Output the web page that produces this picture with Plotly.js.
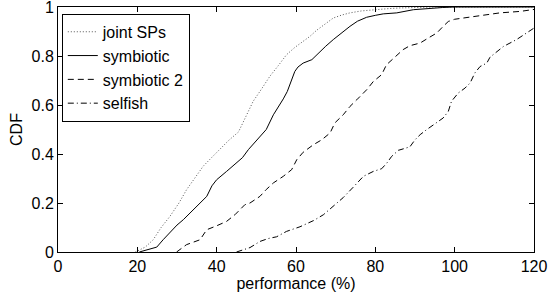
<!DOCTYPE html>
<html>
<head>
<meta charset="utf-8">
<script src="https://cdn.plot.ly/plotly-3.0.1.min.js"></script>
<style>html,body{margin:0;padding:0;background:#fff;}#chart{width:548px;height:293px;}</style>
</head>
<body>
<div id="chart"></div>
<script>
const seriesNames = ['joint SPs', 'symbiotic', 'symbiotic 2', 'selfish'];
const xTicks = [0, 20, 40, 60, 80, 100, 120];
const yTicks = [0, 0.2, 0.4, 0.6, 0.8, 1];
const yTickText = ['0', '0.2', '0.4', '0.6', '0.8', '1'];

const jointX = [19.5, 22, 24, 26, 28.2, 30.5, 32.4, 34.5, 36.6, 38.7, 40.8, 43, 45.5, 47.5, 49.2, 51.3, 53.4, 55.5, 57.6, 59.7, 61.8, 63.5, 65.2, 67.3, 69.4, 71.5, 73.6, 76.5, 79.5, 83, 86, 90, 95, 120];
const jointY = [0, 0.02, 0.05, 0.1, 0.145, 0.2, 0.254, 0.3, 0.35, 0.385, 0.418, 0.455, 0.49, 0.56, 0.615, 0.665, 0.717, 0.76, 0.805, 0.835, 0.86, 0.88, 0.905, 0.93, 0.955, 0.967, 0.976, 0.984, 0.989, 0.993, 0.996, 0.998, 1, 1];

const symX = [20.5, 23, 24.9, 26.5, 28.2, 30, 31.6, 33.3, 35.8, 37.5, 38.8, 40, 42.5, 45, 46.5, 48, 49.5, 51, 52.5, 54.3, 55.5, 56.8, 57.8, 58.5, 59.7, 60.5, 61.8, 64, 65.6, 67.5, 69.4, 71.5, 73.6, 75.5, 77.8, 80, 82, 85.4, 89.6, 97, 100, 120];
const symY = [0, 0.01, 0.02, 0.05, 0.078, 0.11, 0.132, 0.159, 0.2, 0.227, 0.27, 0.295, 0.329, 0.363, 0.385, 0.418, 0.445, 0.475, 0.5, 0.56, 0.59, 0.625, 0.655, 0.683, 0.737, 0.755, 0.771, 0.785, 0.812, 0.84, 0.867, 0.895, 0.921, 0.942, 0.958, 0.966, 0.972, 0.976, 0.989, 0.998, 1, 1];

const sym2X = [29.9, 32.4, 35.8, 37.5, 40, 42.5, 44.6, 47.1, 48.4, 50.9, 52.5, 54.3, 56.8, 58.9, 60.2, 61.8, 64.4, 66.5, 68.6, 69.8, 71.9, 73.6, 75.3, 77.8, 79.5, 81.6, 82.8, 85, 87, 88.7, 91.3, 93.3, 95.5, 97.1, 98.4, 100, 102.2, 106.4, 111.4, 116.5, 120];
const sym2Y = [0, 0.03, 0.05, 0.091, 0.107, 0.125, 0.152, 0.193, 0.2, 0.227, 0.255, 0.282, 0.309, 0.336, 0.377, 0.407, 0.438, 0.458, 0.486, 0.527, 0.56, 0.594, 0.621, 0.662, 0.696, 0.724, 0.764, 0.798, 0.826, 0.842, 0.853, 0.873, 0.894, 0.921, 0.941, 0.95, 0.955, 0.964, 0.976, 0.982, 0.99];

const selfX = [45, 48.4, 50.9, 53, 55.1, 57.6, 61, 64.4, 66.9, 69.4, 71.9, 74.4, 77, 79.5, 81.6, 82.9, 84.1, 85.8, 88.7, 90, 91.3, 92.9, 95.5, 97.1, 98.4, 99.2, 100.9, 102.6, 103.9, 105.1, 106.4, 108.1, 108.9, 112.3, 115.6, 118.1, 120];
const selfY = [0, 0.018, 0.043, 0.055, 0.062, 0.084, 0.103, 0.128, 0.152, 0.186, 0.222, 0.264, 0.309, 0.329, 0.34, 0.363, 0.39, 0.415, 0.429, 0.458, 0.479, 0.499, 0.527, 0.547, 0.574, 0.615, 0.649, 0.669, 0.69, 0.731, 0.757, 0.771, 0.795, 0.839, 0.867, 0.894, 0.914];

const FONT = '"Liberation Sans", Arial, Helvetica, sans-serif';

const traces = [
  {x: jointX, y: jointY, name: seriesNames[0], mode: 'lines', line: {color: '#555', width: 1, dash: '1px,2px'}},
  {x: symX, y: symY, name: seriesNames[1], mode: 'lines', line: {color: '#000', width: 1}},
  {x: sym2X, y: sym2Y, name: seriesNames[2], mode: 'lines', line: {color: '#000', width: 1, dash: '6px,4px'}},
  {x: selfX, y: selfY, name: seriesNames[3], mode: 'lines', line: {color: '#000', width: 1, dash: '6px,3px,1px,3px'}}
];

const axisCommon = {
  showgrid: false, zeroline: false, showline: true, linecolor: '#000', linewidth: 1,
  ticks: 'inside', ticklen: 5, tickcolor: '#000', mirror: 'ticks',
  ticklabeloverflow: 'allow',
  tickfont: {family: FONT, size: 16, color: '#000'}
};

const layout = {
  width: 548, height: 293,
  margin: {l: 58, r: 14, t: 7, b: 41},
  paper_bgcolor: '#fff', plot_bgcolor: '#fff',
  font: {family: FONT, size: 16, color: '#000'},
  showlegend: true,
  legend: {x: 0.008, y: 0.972, xanchor: 'left', yanchor: 'top', bgcolor: '#fff', bordercolor: '#000', borderwidth: 1,
           itemwidth: 30, font: {family: FONT, size: 16, color: '#000'}, tracegroupgap: 0},
  xaxis: Object.assign({}, axisCommon, {range: [0, 120], tickmode: 'array', tickvals: xTicks,
          title: {text: 'performance (%)', font: {family: FONT, size: 16, color: '#000'}, standoff: 2}}),
  yaxis: Object.assign({}, axisCommon, {range: [0, 1], tickmode: 'array', tickvals: yTicks, ticktext: yTickText,
          title: {text: 'CDF', font: {family: FONT, size: 16, color: '#000'}, standoff: 4}})
};

Plotly.newPlot('chart', traces, layout, {displayModeBar: false, staticPlot: true});
</script>
</body>
</html>
